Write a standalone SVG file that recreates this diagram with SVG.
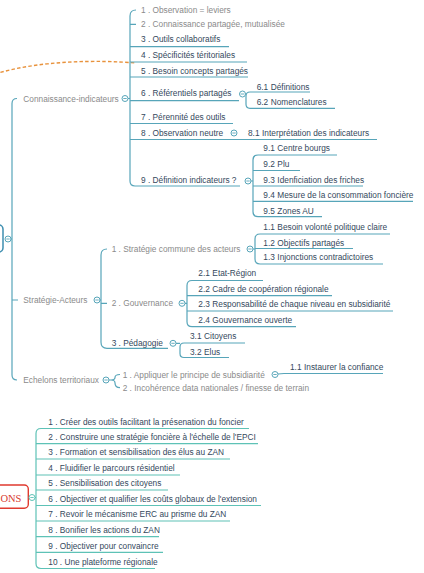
<svg xmlns="http://www.w3.org/2000/svg" xmlns:xlink="http://www.w3.org/1999/xlink" width="424" height="573" viewBox="0 0 424 573">
<style>
text{font-family:"Liberation Sans",Arial,sans-serif;font-size:8.3px}
.g{fill:#8a8a8a}
.d{fill:#34485c}
.ln{stroke:#57a5b9;stroke-width:1.2;fill:none}
.la{stroke:#5ec2b6;stroke-width:1.2;fill:none}
.or{stroke:#e8923c;stroke-width:1.4;fill:none;stroke-dasharray:3.5 2.2}
</style>
<defs>
<g id="bu"><circle r="3" fill="#fff" stroke="#57a5b9" stroke-width="1"/><line x1="-1.7" x2="1.7" stroke="#57a5b9" stroke-width="0.9"/></g>
<g id="ba"><circle r="3" fill="#fff" stroke="#5ec2b6" stroke-width="1"/><line x1="-1.7" x2="1.7" stroke="#5ec2b6" stroke-width="0.9"/></g>
</defs>
<rect width="424" height="573" fill="#fff"/>

<g id="connectors">
<path class="or" d="M-5 74 C40 60 100 60 136 63"/>
<path class="ln" d="M17 98.5 Q12 98.5 12 103.5 L12 375 Q12 380 17 380 M12 300 L18 300 M11 239 L12 239 M128 98.5 L130 98.5 M100 300 L101 300 M109 380 L111 380"/>
<path class="ln" d="M136 10 Q130 10 130 16 L130 181 Q130 186 135 186 L240 186 M130 24.3 L136 24.3 M130 46.7 L229 46.7 M130 62 L247 62 M130 77 L248 77 M130 100.7 L239 100.7 M130 123.5 L233 123.5 M130 139.5 L377 139.5"/>
<path class="ln" d="M245 94 L246 94 M310 92 L250 92 Q246 92 246 96 L246 104.3 Q246 108.3 250 108.3 L335 108.3"/>
<path class="ln" d="M251 181 L253 181 M337 155 L258 155 Q253 155 253 160 L253 211.7 Q253 216.7 258 216.7 L322 216.7 M253 170.5 L300 170.5 M253 186 L363 186 M253 201.3 L413 201.3"/>
<path class="ln" d="M107 249 Q101 249 101 255 L101 342.3 Q101 348.3 107 348.3 L168 348.3 M101 303.3 L107 303.3"/>
<path class="ln" d="M253 249 L255 249 M390 234 L260 234 Q255 234 255 239 L255 259 Q255 264 260 264 L383 264 M255 248.5 L353 248.5"/>
<path class="ln" d="M185 303.3 L187 303.3 M263 280.5 L192 280.5 Q187 280.5 187 285.5 L187 321.7 Q187 326.7 192 326.7 L296 326.7 M187 295.7 L332 295.7 M187 311 L393 311"/>
<path class="ln" d="M176 343.3 L180 343.3 M245 343 L184 343 Q180 343 180 347 L180 353.5 Q180 357.5 184 357.5 L229 357.5"/>
<path class="ln" d="M111 380 Q115 380 115 377.5 Q115 374.5 120 374.5 M111 380 Q115 380 115 383 Q115 387.7 120 387.7"/>
<path class="ln" d="M278 374 Q281 373.5 284 373.5 L383 373.5"/>
<path class="la" d="M35 497.5 L36 497.5 M249 428.5 L41 428.5 Q36 428.5 36 433.5 L36 563.5 Q36 568.5 41 568.5 L155 568.5 M36 443.7 L258 443.7 M36 459 L230 459 M36 475 L180 475 M36 490 L168 490 M36 505.5 L261 505.5 M36 521 L230 521 M36 536.7 L159 536.7 M36 552.3 L163 552.3"/>
</g>

<g id="root"><rect x="-60" y="225" width="63" height="27" rx="4" fill="#fff" stroke="#3f8fb0" stroke-width="1.5"/><use xlink:href="#bu" x="8" y="239"/></g>

<g id="n-ci"><text class="g" x="23.3" y="101.5">Connaissance-indicateurs</text><use xlink:href="#bu" x="125" y="98.5"/></g>
<g id="n-sa"><text class="g" x="23.3" y="303">Stratégie-Acteurs</text><use xlink:href="#bu" x="97" y="300"/></g>
<g id="n-et"><text class="g" x="23.3" y="383">Echelons territoriaux</text><use xlink:href="#bu" x="106" y="380"/></g>

<g id="c1"><text class="g" x="141" y="13">1 . Observation = leviers</text></g>
<g id="c2"><text class="g" x="141" y="27.3">2 . Connaissance partagée, mutualisée</text></g>
<g id="c3"><text class="d" x="141" y="42.3">3 . Outils collaboratifs</text></g>
<g id="c4"><text class="d" x="141" y="58">4 . Spécificités téritoriales</text></g>
<g id="c5"><text class="d" x="141" y="73.7">5 . Besoin concepts partagés</text></g>
<g id="c6"><text class="d" x="141" y="96.3">6 . Référentiels partagés</text><use xlink:href="#bu" x="242.5" y="94"/></g>
<g id="c7"><text class="d" x="141" y="120.3">7 . Pérennité des outils</text></g>
<g id="c8"><text class="d" x="141" y="136">8 . Observation neutre</text><use xlink:href="#bu" x="234" y="133"/></g>
<g id="c9"><text class="d" x="141" y="183">9 . Définition indicateurs ?</text><use xlink:href="#bu" x="248" y="181"/></g>
<g id="c61"><text class="d" x="256.7" y="89.7">6.1<tspan dx="2.5">Définitions</tspan></text></g>
<g id="c62"><text class="d" x="256.7" y="104.7">6.2<tspan dx="2.5">Nomenclatures</tspan></text></g>
<g id="c81"><text class="d" x="248" y="136">8.1<tspan dx="2.5">Interprétation des indicateurs</tspan></text></g>
<g id="c91"><text class="d" x="263.3" y="151.3">9.1<tspan dx="2.5">Centre bourgs</tspan></text></g>
<g id="c92"><text class="d" x="263.3" y="167">9.2<tspan dx="2.5">Plu</tspan></text></g>
<g id="c93"><text class="d" x="263.3" y="183">9.3<tspan dx="2.5">Idenficiation des friches</tspan></text></g>
<g id="c94"><text class="d" x="263.3" y="198">9.4<tspan dx="2.5">Mesure de la consommation foncière</tspan></text></g>
<g id="c95"><text class="d" x="263.3" y="213.7">9.5<tspan dx="2.5">Zones AU</tspan></text></g>

<g id="s1"><text class="g" x="111.7" y="252">1 . Stratégie commune des acteurs</text><use xlink:href="#bu" x="250" y="249"/></g>
<g id="s2"><text class="g" x="111.7" y="306.3">2 . Gouvernance</text><use xlink:href="#bu" x="182" y="303.3"/></g>
<g id="s3"><text class="d" x="111.7" y="346.3">3 . Pédagogie</text><use xlink:href="#bu" x="173" y="343.3"/></g>
<g id="s11"><text class="d" x="263.3" y="230.3">1.1<tspan dx="2.5">Besoin volonté politique claire</tspan></text></g>
<g id="s12"><text class="d" x="263.3" y="245.7">1.2<tspan dx="2.5">Objectifs partagés</tspan></text></g>
<g id="s13"><text class="d" x="263.3" y="260.3">1.3<tspan dx="2.5">Injonctions contradictoires</tspan></text></g>
<g id="s21"><text class="d" x="198.3" y="276.3">2.1<tspan dx="2.5">Etat-Région</tspan></text></g>
<g id="s22"><text class="d" x="198.3" y="292.3">2.2<tspan dx="2.5">Cadre de coopération régionale</tspan></text></g>
<g id="s23"><text class="d" x="198.3" y="307.3">2.3<tspan dx="2.5">Responsabilité de chaque niveau en subsidiarité</tspan></text></g>
<g id="s24"><text class="d" x="198.3" y="323">2.4<tspan dx="2.5">Gouvernance ouverte</tspan></text></g>
<g id="s31"><text class="d" x="190" y="339">3.1<tspan dx="2.5">Citoyens</tspan></text></g>
<g id="s32"><text class="d" x="190" y="354.7">3.2<tspan dx="2.5">Elus</tspan></text></g>

<g id="e1"><text class="g" x="122.7" y="377.5">1 . Appliquer le principe de subsidiarité</text><use xlink:href="#bu" x="275" y="374.5"/></g>
<g id="e2"><text class="g" x="122.7" y="390.7">2 . Incohérence data nationales / finesse de terrain</text></g>
<g id="e11"><text class="d" x="290" y="369.7">1.1<tspan dx="2.5">Instaurer la confiance</tspan></text></g>

<g id="actions"><rect x="-50" y="485" width="78.3" height="23.3" rx="4" fill="#fff" stroke="#e03a2f" stroke-width="1.4"/><text x="0.4" y="501.8" style="font-family:'Liberation Serif','Times New Roman',serif;font-size:10.5px;fill:#d83a2e">ONS</text><use xlink:href="#ba" x="32" y="497.5"/></g>
<g id="a1"><text class="d" x="48.3" y="424.7">1 . Créer des outils facilitant la présenation du foncier</text></g>
<g id="a2"><text class="d" x="48.3" y="439.7">2 . Construire une stratégie foncière à l'échelle de l'EPCI</text></g>
<g id="a3"><text class="d" x="48.3" y="455.3">3 . Formation et sensibilisation des élus au ZAN</text></g>
<g id="a4"><text class="d" x="48.3" y="471.3">4 . Fluidifier le parcours résidentiel</text></g>
<g id="a5"><text class="d" x="48.3" y="486.3">5 . Sensibilisation des citoyens</text></g>
<g id="a6"><text class="d" x="48.3" y="502">6 . Objectiver et qualifier les coûts globaux de l'extension</text></g>
<g id="a7"><text class="d" x="48.3" y="517.3">7 . Revoir le mécanisme ERC au prisme du ZAN</text></g>
<g id="a8"><text class="d" x="48.3" y="533">8 . Bonifier les actions du ZAN</text></g>
<g id="a9"><text class="d" x="48.3" y="548.7">9 . Objectiver pour convaincre</text></g>
<g id="a10"><text class="d" x="48.3" y="564.7">10 . Une plateforme régionale</text></g>
</svg>
